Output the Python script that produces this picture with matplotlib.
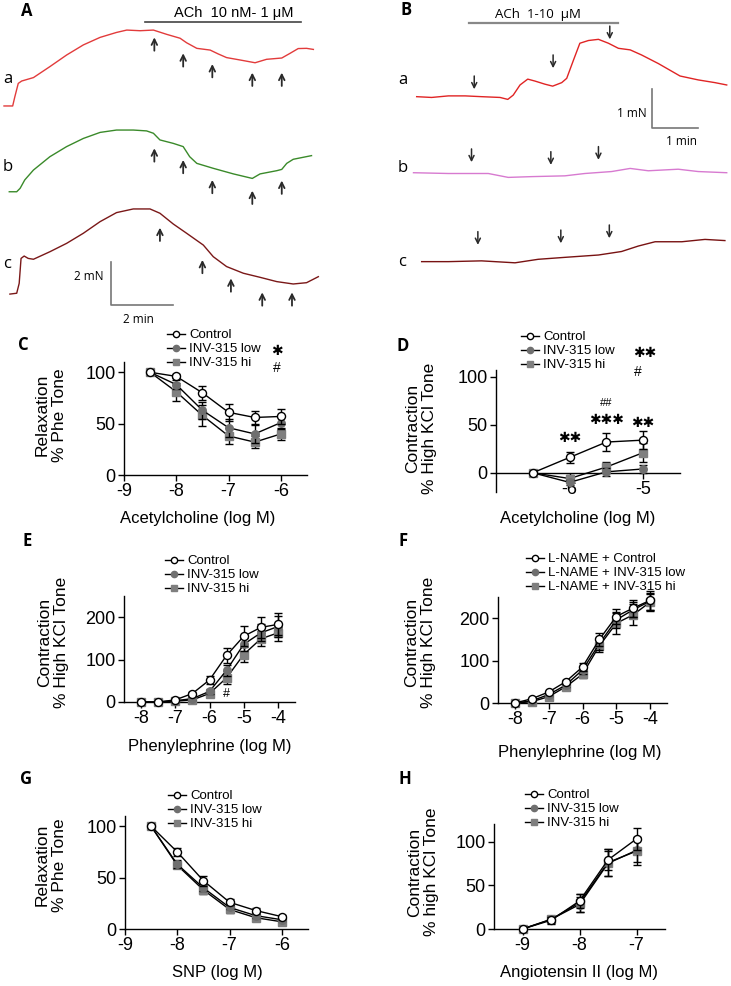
import numpy as np
import matplotlib
matplotlib.use("Agg")
import matplotlib.pyplot as plt
from matplotlib.lines import Line2D

W, H = 731, 986
plt.rcParams['font.family'] = ['Liberation Sans', 'DejaVu Sans']
LETTER_FONT = ['Open Sans', 'DejaVu Sans']

# ---------------- traces (time in min, force in mN) ----------------
A_a_t = [0, 0.28, 0.35, 0.46, 0.57, 0.95, 1.48, 2.02, 2.56, 3.10, 3.63, 3.96, 4.39, 4.82, 5.25, 5.68,
         5.89, 6.22, 6.65, 6.91, 7.18, 7.61, 8.10, 8.47, 8.96, 9.23, 9.49, 9.76, 9.98]
A_a_f = [9.49, 9.49, 9.92, 10.54, 10.65, 10.81, 11.32, 11.86, 12.33, 12.68, 12.91, 13.02, 12.99, 13.02,
         12.82, 12.64, 12.43, 12.17, 12.09, 11.91, 11.74, 11.63, 11.50, 11.66, 11.72, 11.94, 12.16, 12.17, 12.12]
A_b_t = [0.17, 0.41, 0.52, 0.67, 0.95, 1.48, 2.02, 2.56, 3.10, 3.63, 4.17, 4.60, 4.82, 5.03, 5.46, 5.78,
         5.99, 6.22, 6.75, 7.40, 8.01, 8.26, 8.80, 8.96, 9.12, 9.33, 9.92]
A_b_f = [5.50, 5.50, 5.66, 6.05, 6.51, 7.13, 7.60, 7.98, 8.26, 8.37, 8.37, 8.33, 8.22, 7.91, 7.75, 7.60,
         7.13, 6.82, 6.59, 6.33, 6.12, 6.33, 6.48, 6.54, 6.82, 7.01, 7.18]
A_c_t = [0.19, 0.41, 0.49, 0.55, 0.65, 0.78, 0.95, 1.48, 2.02, 2.56, 3.10, 3.63, 4.17, 4.71, 5.03, 5.46,
         5.89, 6.43, 6.75, 7.18, 7.72, 8.26, 8.80, 9.33, 9.76, 10.14]
A_c_f = [0.74, 0.78, 1.24, 2.40, 2.51, 2.40, 2.36, 2.71, 3.10, 3.57, 4.11, 4.53, 4.70, 4.70, 4.50, 4.00,
         3.57, 3.02, 2.48, 2.02, 1.71, 1.52, 1.32, 1.21, 1.27, 1.55]
A_arrow_t = [[4.85, 5.78, 6.72, 8.01, 8.96], [4.85, 5.78, 6.72, 8.01, 8.96], [5.03, 6.40, 7.32, 8.33, 9.29]]
A_arrow_f = [[12.68, 11.94, 11.44, 11.04, 11.04], [7.52, 6.98, 6.05, 5.55, 6.02], [3.83, 2.33, 1.47, 0.82, 0.82]]

B_a_t = [0, 0.33, 0.70, 1.07, 1.43, 1.84, 2.01, 2.13, 2.28, 2.45, 2.61, 2.83, 3.00, 3.20, 3.31, 3.46,
         3.60, 3.79, 4.01, 4.23, 4.45, 4.71, 4.96, 5.33, 5.81, 6.21, 6.58, 6.84]
B_a_f = [5.47, 5.45, 5.49, 5.49, 5.47, 5.45, 5.40, 5.51, 5.77, 5.92, 5.87, 5.79, 5.74, 5.83, 5.94, 6.41,
         6.84, 6.91, 6.94, 6.84, 6.71, 6.67, 6.54, 6.32, 6.00, 5.90, 5.83, 5.77]
B_b_t = [-0.07, 0.70, 1.58, 2.02, 2.54, 3.27, 3.71, 4.30, 4.71, 5.11, 5.77, 6.21, 6.84]
B_b_f = [3.52, 3.50, 3.50, 3.40, 3.42, 3.44, 3.50, 3.55, 3.63, 3.57, 3.61, 3.55, 3.52]
B_c_t = [0.11, 0.70, 1.43, 2.17, 2.68, 3.27, 4.01, 4.52, 4.89, 5.26, 5.85, 6.36, 6.80]
B_c_f = [1.24, 1.24, 1.26, 1.21, 1.30, 1.35, 1.41, 1.50, 1.64, 1.75, 1.75, 1.81, 1.78]
B_arrow_t = [[1.27, 3.01, 4.26], [1.21, 2.96, 4.01], [1.35, 3.18, 4.25]]
B_arrow_f = [[5.66, 6.20, 6.94], [3.79, 3.72, 3.85], [1.67, 1.71, 1.84]]

# ---------------- concentration-response data ----------------
C_x = [-8.5, -8, -7.5, -7, -6.5, -6]
C_ctrl = [100, 96, 80, 61, 56, 57]
C_ctrl_err = [0, 2, 7, 8, 6, 7]
C_low = [100, 88, 63, 46, 40, 51]
C_low_err = [0, 4, 8, 9, 9, 6]
C_hi = [100, 81, 58, 38, 32, 40]
C_hi_err = [0, 9, 10, 8, 6, 6]

D_x = [-6.5, -6, -5.5, -5]
D_ctrl = [0, 16, 32, 34]
D_ctrl_err = [0, 6, 9, 9]
D_low = [0, -10, 1, 4]
D_low_err = [0, 3, 4, 4]
D_hi = [0, -6, 6, 21]
D_hi_err = [0, 4, 5, 10]

E_x = [-8, -7.5, -7, -6.5, -6, -5.5, -5, -4.5, -4]
E_ctrl = [0, 0, 5, 20, 52, 110, 155, 176, 183]
E_ctrl_err = [0, 0, 2, 3, 10, 18, 24, 25, 26]
E_low = [0, 0, 3, 8, 25, 75, 136, 163, 178]
E_low_err = [0, 0, 1, 3, 6, 13, 16, 20, 24]
E_hi = [0, 0, 2, 5, 20, 57, 112, 149, 163]
E_hi_err = [0, 0, 1, 2, 5, 15, 18, 18, 18]

F_x = [-8, -7.5, -7, -6.5, -6, -5.5, -5, -4.5, -4]
F_ctrl = [0, 10, 26, 50, 85, 150, 204, 224, 242]
F_ctrl_err = [0, 2, 3, 5, 10, 15, 18, 20, 22]
F_low = [0, 5, 20, 42, 78, 140, 196, 220, 240]
F_low_err = [0, 2, 3, 5, 9, 14, 18, 18, 20]
F_hi = [0, 3, 15, 38, 68, 135, 188, 208, 238]
F_hi_err = [0, 2, 3, 5, 10, 15, 25, 25, 20]

G_x = [-8.5, -8, -7.5, -7, -6.5, -6]
G_ctrl = [100, 75, 47, 26, 18, 12]
G_ctrl_err = [0, 4, 5, 3, 2, 2]
G_low = [100, 63, 40, 21, 13, 9]
G_low_err = [0, 4, 3, 2, 2, 1]
G_hi = [100, 62, 38, 19, 11, 7]
G_hi_err = [0, 3, 4, 3, 2, 2]

H_x = [-9, -8.5, -8, -7.5, -7]
H_ctrl = [0, 10, 32, 79, 103]
H_ctrl_err = [0, 4, 8, 12, 13]
H_low = [0, 11, 28, 75, 90]
H_low_err = [0, 3, 9, 14, 13]
H_hi = [0, 11, 30, 76, 89]
H_hi_err = [0, 4, 10, 15, 16]

labels_std = ['Control', 'INV-315 low', 'INV-315 hi']
labels_lname = ['L-NAME + Control', 'L-NAME + INV-315 low', 'L-NAME + INV-315 hi']

fig = plt.figure(figsize=(W / 100, H / 100), dpi=100)


def rect(l, t, r, b):
    return [l / W, 1 - b / H, (r - l) / W, (b - t) / H]


def ftext(px, py, s, **kw):
    fig.text(px / W, 1 - py / H, s, **kw)


ARROW = dict(arrowstyle='->', color='#2a2a2a', lw=1.3, mutation_scale=10, shrinkA=0, shrinkB=0)
STAR = dict(fontsize=10, family='DejaVu Sans', ha='center', va='center')

# ---------------- panel A ----------------
axA = fig.add_axes(rect(0, 0, 365, 330))
axA.set_xlim(-4 / 31, 361 / 31)
axA.set_ylim(-20 / 21.5, 310 / 21.5)
axA.axis('off')
for t, f, c in [(A_a_t, A_a_f, '#e23b3b'), (A_b_t, A_b_f, '#3a8a2a'), (A_c_t, A_c_f, '#7a1818')]:
    axA.plot(t, f, color=c, lw=1.0)
for ts, fs in zip(A_arrow_t, A_arrow_f):
    for t, f in zip(ts, fs):
        axA.annotate('', xy=(t, f), xytext=(t, f - 0.62), arrowprops=ARROW)
axA.plot([4.55, 9.58], [13.38, 13.38], color='#444444', lw=1.2)
axA.plot([3.45, 3.45, 5.45], [2.23, 0.23, 0.23], color='#777777', lw=1.2)

# ---------------- panel B ----------------
axB = fig.add_axes(rect(365, 0, 731, 310))
axB.set_xlim(-51.67 / 45.33, 314.33 / 45.33)
axB.set_ylim(0, 310 / 39)
axB.axis('off')
for t, f, c in [(B_a_t, B_a_f, '#e02424'), (B_b_t, B_b_f, '#d77ad0'), (B_c_t, B_c_f, '#781212')]:
    axB.plot(t, f, color=c, lw=1.0)
for ts, fs in zip(B_arrow_t, B_arrow_f):
    for t, f in zip(ts, fs):
        axB.annotate('', xy=(t, f), xytext=(t, f + 0.34),
                     arrowprops=dict(ARROW, lw=1.1, mutation_scale=9))
axB.plot([1.16, 4.45], [7.37, 7.37], color='#888888', lw=1.6)
axB.plot([5.20, 5.20, 6.20], [5.66, 4.66, 4.66], color='#777777', lw=1.2)

# trace texts
ftext(21, 16, 'A', fontsize=12, fontweight='bold', family=LETTER_FONT)
ftext(400, 15, 'B', fontsize=12, fontweight='bold', family=LETTER_FONT)
for px, py, s in [(3, 83, 'a'), (3, 171, 'b'), (3, 268, 'c'), (398, 84, 'a'), (398, 172, 'b'), (398, 266, 'c')]:
    ftext(px, py, s, fontsize=12, family=LETTER_FONT)
ftext(174, 17, 'ACh  10 nM- 1 μM', fontsize=10.5)
ftext(495, 18, 'ACh  1-10  μM', fontsize=9.5, family=LETTER_FONT)
ftext(104, 280, '2 mN', fontsize=8.5, family=LETTER_FONT, ha='right')
ftext(138, 323, '2 min', fontsize=8.5, family=LETTER_FONT, ha='center')
ftext(647, 117, '1 mN', fontsize=8.5, family=LETTER_FONT, ha='right')
ftext(681, 145, '1 min', fontsize=8.5, family=LETTER_FONT, ha='center')


# ---------------- dose-response panels ----------------
def style_axes(ax, xlim, ylim, xticks, yticks):
    ax.set_xlim(*xlim)
    ax.set_ylim(*ylim)
    ax.set_xticks(xticks)
    ax.set_yticks(yticks)
    ax.set_xticklabels([str(v) for v in xticks])
    ax.spines['top'].set_visible(False)
    ax.spines['right'].set_visible(False)
    for s in ['left', 'bottom']:
        ax.spines[s].set_linewidth(1.0)
    ax.tick_params(direction='out', length=4, width=1.0, labelsize=13, pad=2)


def draw_series(ax, x, ctrl, ctrl_err, low, low_err, hi, hi_err):
    kw = dict(color='black', lw=1.0, capsize=3.2, capthick=1.0, clip_on=False)
    ax.errorbar(x, hi, yerr=hi_err, marker='s', ms=5.2, mfc='#7f7f7f', mec='#7f7f7f', zorder=3, **kw)
    ax.errorbar(x, low, yerr=low_err, marker='o', ms=5.4, mfc='#6f6f6f', mec='#6f6f6f', zorder=4, **kw)
    ax.errorbar(x, ctrl, yerr=ctrl_err, marker='o', ms=5.8, mfc='white', mec='black', mew=1.0,
                zorder=5, **kw)


def legend(ax, left, top, labels):
    handles = [Line2D([], [], color='black', lw=1.0, marker='o', ms=4.5, mfc='white', mec='black'),
               Line2D([], [], color='black', lw=1.0, marker='o', ms=4.5, mfc='#6f6f6f', mec='#6f6f6f'),
               Line2D([], [], color='black', lw=1.0, marker='s', ms=4.5, mfc='#7f7f7f', mec='#7f7f7f')]
    ax.legend(handles, labels, loc='upper left', bbox_to_anchor=(left / W, 1 - top / H),
              bbox_transform=fig.transFigure, frameon=False, fontsize=9.5, handlelength=1.4,
              handletextpad=0.3, labelspacing=0.14, borderpad=0, borderaxespad=0)


# C
axC = fig.add_axes(rect(124, 362, 307, 475))
style_axes(axC, (-9, -5.5), (0, 110), [-9, -8, -7, -6], [0, 50, 100])
draw_series(axC, C_x, C_ctrl, C_ctrl_err, C_low, C_low_err, C_hi, C_hi_err)
legend(axC, 167, 329, labels_std)
ftext(277, 351, '✱', **STAR)
ftext(277, 368, '#', fontsize=10, ha='center', va='center')
ftext(18, 350, 'C', fontsize=12, fontweight='bold', family=LETTER_FONT)
ftext(51, 415, 'Relaxation\n% Phe Tone', fontsize=12.5, rotation=90, ha='center', va='center', ma='center')
ftext(198, 519, 'Acetylcholine (log M)', fontsize=12, ha='center', va='center')

# D
axD = fig.add_axes(rect(496, 370, 680, 492))
style_axes(axD, (-7, -4.5), (-20, 107), [-6, -5], [0, 50, 100])
axD.spines['bottom'].set_position(('data', 0))
draw_series(axD, D_x, D_ctrl, D_ctrl_err, D_low, D_low_err, D_hi, D_hi_err)
legend(axD, 521, 331, labels_std)
ftext(645, 353, '✱✱', **STAR)
ftext(638, 372, '#', fontsize=10, ha='center', va='center')
axD.text(-6, 36, '✱✱', **STAR)
axD.text(-5.5, 55, '✱✱✱', **STAR)
axD.text(-5.5, 73, '##', fontsize=8, ha='center', va='center')
axD.text(-5, 52, '✱✱', **STAR)
ftext(397, 351, 'D', fontsize=12, fontweight='bold', family=LETTER_FONT)
ftext(421, 428, 'Contraction\n% High KCl Tone', fontsize=12.5, rotation=90, ha='center', va='center', ma='center')
ftext(578, 519, 'Acetylcholine (log M)', fontsize=12, ha='center', va='center')

# E
axE = fig.add_axes(rect(124, 596, 295, 702))
style_axes(axE, (-8.5, -3.5), (0, 250), [-8, -7, -6, -5, -4], [0, 100, 200])
draw_series(axE, E_x, E_ctrl, E_ctrl_err, E_low, E_low_err, E_hi, E_hi_err)
legend(axE, 165, 555, labels_std)
axE.text(-5.5, 20, '#', fontsize=9, ha='center', va='center')
ftext(22, 546, 'E', fontsize=12, fontweight='bold', family=LETTER_FONT)
ftext(53, 642, 'Contraction\n% High KCl Tone', fontsize=12.5, rotation=90, ha='center', va='center', ma='center')
ftext(210, 747, 'Phenylephrine (log M)', fontsize=12, ha='center', va='center')

# F
axF = fig.add_axes(rect(498, 597, 667, 703))
style_axes(axF, (-8.5, -3.5), (0, 250), [-8, -7, -6, -5, -4], [0, 100, 200])
draw_series(axF, F_x, F_ctrl, F_ctrl_err, F_low, F_low_err, F_hi, F_hi_err)
legend(axF, 526, 553, labels_lname)
ftext(398, 546, 'F', fontsize=12, fontweight='bold', family=LETTER_FONT)
ftext(420, 642, 'Contraction\n% High KCl Tone', fontsize=12.5, rotation=90, ha='center', va='center', ma='center')
ftext(580, 752, 'Phenylephrine (log M)', fontsize=12, ha='center', va='center')

# G
axG = fig.add_axes(rect(125, 816, 308, 929))
style_axes(axG, (-9, -5.5), (0, 110), [-9, -8, -7, -6], [0, 50, 100])
draw_series(axG, G_x, G_ctrl, G_ctrl_err, G_low, G_low_err, G_hi, G_hi_err)
legend(axG, 168, 790, labels_std)
ftext(20, 784, 'G', fontsize=12, fontweight='bold', family=LETTER_FONT)
ftext(51, 865, 'Relaxation\n% Phe Tone', fontsize=12.5, rotation=90, ha='center', va='center', ma='center')
ftext(217, 973, 'SNP (log M)', fontsize=12, ha='center', va='center')

# H
axH = fig.add_axes(rect(494, 824, 665, 929))
style_axes(axH, (-9.5, -6.5), (0, 120), [-9, -8, -7], [0, 50, 100])
draw_series(axH, H_x, H_ctrl, H_ctrl_err, H_low, H_low_err, H_hi, H_hi_err)
legend(axH, 525, 789, labels_std)
ftext(398, 784, 'H', fontsize=12, fontweight='bold', family=LETTER_FONT)
ftext(423, 872, 'Contraction\n% high KCl Tone', fontsize=12.5, rotation=90, ha='center', va='center', ma='center')
ftext(579, 973, 'Angiotensin II (log M)', fontsize=12, ha='center', va='center')

fig.savefig('out.png', dpi=100)
